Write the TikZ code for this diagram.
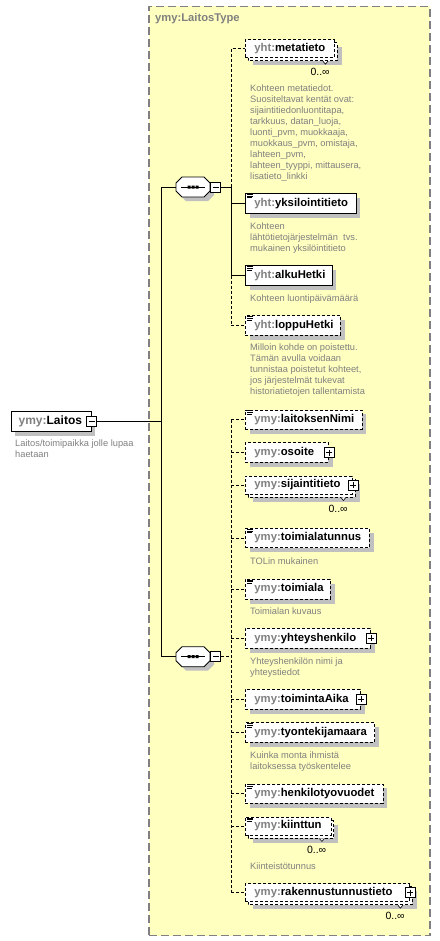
\documentclass[tikz,border=0pt]{standalone}
\usepackage{fontspec}
\setmainfont{Liberation Sans}
\usetikzlibrary{calc}
\definecolor{yel}{RGB}{255,255,192}
\definecolor{pfx}{RGB}{128,128,128}
\definecolor{desc}{RGB}{128,128,128}
\definecolor{shcol}{RGB}{192,192,192}
\definecolor{frame}{RGB}{128,128,128}
\newcommand\elfont{\fontsize{11.3bp}{13bp}\selectfont\bfseries}
\newcommand\laitosfont{\fontsize{12bp}{14bp}\selectfont\bfseries}
\newcommand\titlefont{\fontsize{11.2bp}{13bp}\selectfont\bfseries}
\newcommand\descfont{\fontsize{9.3bp}{11bp}\selectfont}
\newcommand\multfont{\fontsize{10.5bp}{12bp}\selectfont}
\tikzset{
 elline/.style={line width=0.9bp},
 req/.style={solid},
 opt/.style={dash pattern=on 3bp off 2bp},
 el/.style={draw=black, elline, fill=white, anchor=west, inner sep=0pt, align=left, font=\elfont},
 conn/.style={line width=0.9bp},
 optconn/.style={conn, dash pattern=on 3bp off 2bp},
 descr/.style={anchor=north west, inner sep=0pt, align=left, text=desc, font=\descfont},
 mult/.style={anchor=east, inner sep=0pt, font=\multfont, text=black},
 pmbox/.style={draw=black, fill=white, line width=0.8bp, minimum size=10bp, inner sep=0pt},
 minusbox/.style={pmbox, path picture={\draw[line width=0.8bp] ([xshift=2bp]path picture bounding box.west) -- ([xshift=-2bp]path picture bounding box.east);}},
 plusbox/.style={pmbox, path picture={\draw[line width=0.8bp] ([xshift=2bp]path picture bounding box.west) -- ([xshift=-2bp]path picture bounding box.east) ([yshift=-2bp]path picture bounding box.north) -- ([yshift=2bp]path picture bounding box.south);}},
}
% #1 name, #2 y centre, #3 width, #4 height, #5 stack offset, #6 border style, #7 prefix, #8 local name
\newcommand\El[8]{%
 \fill[shcol] ({245+#5+4.5},{#2-#4/2+#5+4.5}) rectangle ++(#3,#4);
 \ifnum#5>0 \draw[elline,#6,fill=white] ({245+#5},{#2-#4/2+#5}) rectangle ++(#3,#4);\fi
 \node[el,#6,text width=#3bp,minimum height=#4bp] (#1) at (245,#2) {\hspace*{9bp}\mbox{\textcolor{pfx}{#7:}#8}};
}
\newcommand\Icon[1]{\draw[line width=0.7bp] ($(#1.north west)+(2,1.3)$) -- ++(6,0) ($(#1.north west)+(2,3.1)$) -- ++(6,0) ($(#1.north west)+(2,4.9)$) -- ++(5,0);}
\newcommand\Plus[1]{\node[plusbox] (#1p) at (#1.east) {};}
\newcommand\Mult[1]{\draw[line width=0.6bp, fill=white] ($(#1.south east)+(-12,3)$) -- ++(2.5,3) -- ++(2.5,-3);
 \node[mult] (#1m) at ($(#1.south east)+(-5,14)$) {0..∞};}
\newcommand\Seq[3]{%
 \begin{scope}[shift={(#2,#3)}]
 \fill[shcol] (-7,-6) -- (15,-6) -- (21,0) -- (21,8) -- (15,14) -- (-7,14) -- (-13,8) -- (-13,0) -- cycle;
 \draw[line width=0.9bp, fill=white] (-11,-10) -- (11,-10) -- (17,-4) -- (17,4) -- (11,10) -- (-11,10) -- (-17,4) -- (-17,-4) -- cycle;
 \node[minimum width=34bp, minimum height=20bp, inner sep=0pt] (#1) at (0,0) {};
 \draw[line width=0.9bp] (-12,0) -- (12,0);
 \fill (-5.5,-1.5) rectangle ++(3,3) (-1.5,-1.5) rectangle ++(3,3) (2.5,-1.5) rectangle ++(3,3);
 \end{scope}
 \node[minusbox, anchor=west] (#1m) at (#1.east) {};
}
\begin{document}
\begin{tikzpicture}[x=1bp,y=-1bp]
\useasboundingbox (0,0) rectangle (440,941);
% type box
\node[draw=frame, fill=yel, line width=1.2bp, dash pattern=on 8bp off 4bp, minimum width=281bp, minimum height=929.3bp, anchor=north west, inner sep=0pt] (typebox) at (148.3,5.7) {};
\node[anchor=west, inner sep=0pt, font=\titlefont, text=pfx] (title) at (155,19) {ymy:LaitosType};
% top element
\fill[shcol] (15.2,415.8) rectangle ++(80,20);
\node[el, text width=80bp, minimum height=20bp, font=\laitosfont] (laitos) at (10.7,421.3) {\hspace*{7.5bp}\mbox{\textcolor{pfx}{ymy:}Laitos}};
\node[minusbox] (laitosm) at (laitos.east) {};
\node[descr] (dlaitos) at (15,439.6) {Laitos/toimipaikka jolle lupaa\\haetaan};
% sequences
\Seq{s1}{193}{187}
\Seq{s2}{193}{656.7}
% group 1
\El{meta}{48.7}{89}{18}{3}{opt}{yht}{metatieto}
\Mult{meta}
\node[descr] (dmeta) at (250,84.9) {Kohteen metatiedot.\\Suositeltavat kentät ovat:\\sijaintitiedonluontitapa,\\tarkkuus, datan\_luoja,\\luonti\_pvm, muokkaaja,\\muokkaus\_pvm, omistaja,\\lahteen\_pvm,\\lahteen\_tyyppi, mittausera,\\lisatieto\_linkki};
\El{yks}{203.3}{110.7}{20}{0}{req}{yht}{yksilointitieto}
\Icon{yks}
\node[descr] (dyks) at (250,222.3) {Kohteen\\lähtötietojärjestelmän~ tvs.\\mukainen yksilöintitieto};
\El{alku}{275.7}{86.7}{20}{0}{req}{yht}{alkuHetki}
\Icon{alku}
\node[descr] (dalku) at (250,294.3) {Kohteen luontipäivämäärä};
\El{loppu}{325.5}{95}{19.5}{0}{opt}{yht}{loppuHetki}
\Icon{loppu}
\node[descr] (dloppu) at (250,343.3) {Milloin kohde on poistettu.\\Tämän avulla voidaan\\tunnistaa poistetut kohteet,\\jos järjestelmät tukevat\\historiatietojen tallentamista};
% group 2
\El{lnimi}{419.7}{116.7}{19.5}{0}{opt}{ymy}{laitoksenNimi}
\Icon{lnimi}
\El{osoite}{452.5}{83}{19.5}{0}{opt}{ymy}{osoite}
\Plus{osoite}
\El{sijainti}{485}{107}{18}{3}{opt}{ymy}{sijaintitieto}
\Plus{sijainti}
\Mult{sijainti}
\El{tunnus}{538}{124}{19.5}{0}{opt}{ymy}{toimialatunnus}
\Icon{tunnus}
\node[descr] (dtunnus) at (250,557.3) {TOLin mukainen};
\El{toimiala}{589}{85}{20}{0}{opt}{ymy}{toimiala}
\Icon{toimiala}
\node[descr] (dtoimiala) at (250,607.3) {Toimialan kuvaus};
\El{yhteys}{638.3}{125}{20}{0}{opt}{ymy}{yhteyshenkilo}
\Plus{yhteys}
\node[descr] (dyhteys) at (250,657.6) {Yhteyshenkilön nimi ja\\yhteystiedot};
\El{aika}{699.3}{115}{20}{0}{opt}{ymy}{toimintaAika}
\Plus{aika}
\El{tyont}{732.5}{129.3}{19.5}{0}{opt}{ymy}{tyontekijamaara}
\Icon{tyont}
\node[descr] (dtyont) at (250,751.6) {Kuinka monta ihmistä\\laitoksessa työskentelee};
\El{henk}{793.7}{137.7}{19.5}{0}{opt}{ymy}{henkilotyovuodet}
\Icon{henk}
\El{kiint}{826}{85.5}{18}{3}{opt}{ymy}{kiinttun}
\Icon{kiint}
\Mult{kiint}
\node[descr] (dkiint) at (250,862.3) {Kiinteistötunnus};
\El{rak}{892.7}{164}{18}{3}{opt}{ymy}{rakennustunnustieto}
\Plus{rak}
\Mult{rak}
% connectors
\coordinate (jn) at (161,421.3);
\draw[conn] (laitosm.east) -- (jn);
\draw[conn] (s1.west) -- (s1.west -| jn) -- (s2.west -| jn) -- (s2.west);
\coordinate (b1) at ($(s1m.east)+(10,0)$);
\draw[conn] (s1m.east) -- (b1);
\draw[optconn] (b1) |- (meta.west);
\draw[conn] (b1) |- (alku.west);
\draw[conn] (yks.west -| b1) -- (yks.west);
\draw[optconn] (alku.west -| b1) |- (loppu.west);
\coordinate (b2) at ($(s2m.east)+(10,0)$);
\draw[optconn] (s2m.east) -- (b2);
\draw[optconn] (lnimi.west -| b2) -- (rak.west -| b2);
\foreach \n in {lnimi,osoite,sijainti,tunnus,toimiala,yhteys,aika,tyont,henk,kiint,rak}
  \draw[optconn] (\n.west -| b2) -- (\n.west);
\end{tikzpicture}
\end{document}
